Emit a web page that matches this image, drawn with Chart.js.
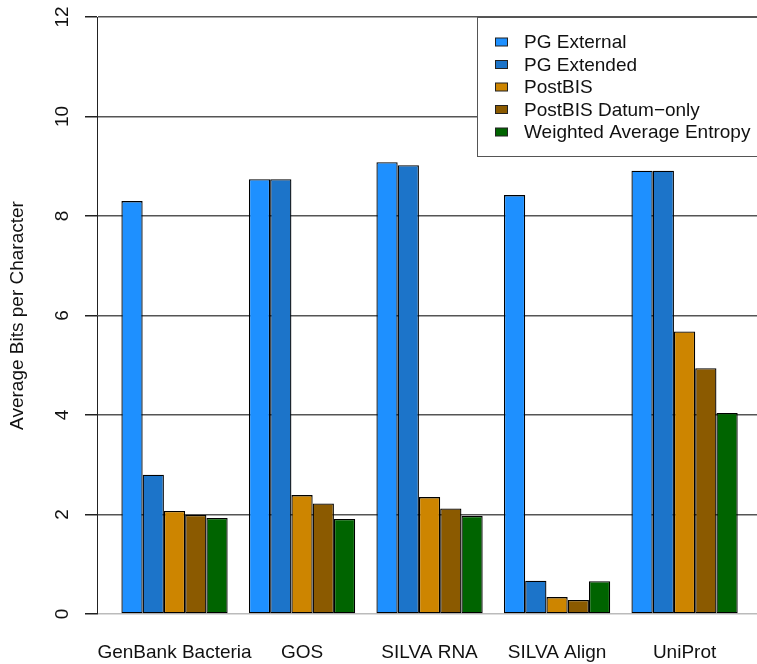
<!DOCTYPE html>
<html>
<head>
<meta charset="utf-8">
<title>Average Bits per Character</title>
<script src="https://cdn.jsdelivr.net/npm/chart.js@4"></script>
<style>
  html, body { margin: 0; padding: 0; background: #fff; }
  #chart { display: block; }
</style>
</head>
<body>
<canvas id="chart" width="757" height="664"></canvas>
<script>
// values
const categories = ['GenBank Bacteria', 'GOS', 'SILVA RNA', 'SILVA Align', 'UniProt'];
const seriesNames = ['PG External', 'PG Extended', 'PostBIS', 'PostBIS Datum\u2212only', 'Weighted Average Entropy'];
const pgExternal = [8.30, 8.74, 9.08, 8.42, 8.91];
const pgExtended = [2.80, 8.74, 9.02, 0.67, 8.91];
const postBIS = [2.07, 2.39, 2.35, 0.34, 5.68];
const postBISDatum = [1.99, 2.22, 2.12, 0.28, 4.94];
const entropy = [1.93, 1.91, 1.97, 0.66, 4.04];
const yTicks = [0, 2, 4, 6, 8, 10, 12];

const seriesValues = [pgExternal, pgExtended, postBIS, postBISDatum, entropy];
const seriesColors = ['#1e90ff', '#1c74c9', '#cd8500', '#8b5a00', '#006400'];

Chart.defaults.font.family = '"Liberation Sans", Arial, Helvetica, sans-serif';
Chart.defaults.font.size = 19;
Chart.defaults.color = '#111';

// legend box in the top right corner, like R's legend()
const boxLegend = {
  id: 'boxLegend',
  afterDraw(chart) {
    const ctx = chart.ctx;
    const left = 477, top = 17, bottom = 156;
    ctx.save();
    ctx.fillStyle = '#fff';
    ctx.fillRect(left, top, chart.width - left + 5, bottom - top);
    ctx.strokeStyle = '#555';
    ctx.lineWidth = 1;
    ctx.strokeRect(left + 0.5, top + 0.5, chart.width - left + 5, bottom - top);
    ctx.font = '19px "Liberation Sans", Arial, Helvetica, sans-serif';
    ctx.textBaseline = 'middle';
    ctx.textAlign = 'left';
    chart.data.datasets.forEach((ds, i) => {
      const cy = 42 + i * 22.5;
      ctx.fillStyle = ds.backgroundColor;
      ctx.fillRect(495.5, cy - 4, 12, 8);
      ctx.strokeStyle = '#222';
      ctx.strokeRect(495.5, cy - 4, 12, 8);
      ctx.fillStyle = '#111';
      ctx.fillText(ds.label, 524, cy + 1);
    });
    ctx.restore();
  }
};

new Chart(document.getElementById('chart'), {
  type: 'bar',
  data: {
    datasets: seriesNames.map((name, s) => ({
      label: name,
      data: seriesValues[s].map((v, i) => ({ x: i + 1, y: v })),
      backgroundColor: seriesColors[s],
      borderColor: '#000',
      borderWidth: 1.3,
      borderSkipped: false,
      categoryPercentage: 5 / 6,
      barPercentage: 1
    }))
  },
  options: {
    responsive: false,
    animation: false,
    devicePixelRatio: 1,
    layout: { padding: { top: 17, left: 0, right: 0, bottom: 0 } },
    plugins: {
      legend: { display: false },
      tooltip: { enabled: false }
    },
    scales: {
      x: {
        type: 'linear',
        offset: false,
        min: 0.392,
        max: 5.568,
        grid: { display: false, drawTicks: false, tickLength: 0 },
        border: { display: false },
        afterBuildTicks: (axis) => {
          axis.ticks = categories.map((c, i) => ({ value: i + 1 }));
        },
        afterFit: (axis) => {
          axis.height = 50;
          axis.paddingLeft = 0;
          axis.paddingRight = 0;
        },
        ticks: {
          autoSkip: false,
          maxRotation: 0,
          minRotation: 0,
          padding: 27,
          color: '#111',
          callback: (v) => categories[Math.round(v) - 1] || ''
        }
      },
      y: {
        min: 0,
        max: 12,
        afterBuildTicks: (axis) => {
          axis.ticks = yTicks.map(v => ({ value: v }));
        },
        afterFit: (axis) => {
          axis.width = 97;
          axis.paddingTop = 0;
          axis.paddingBottom = 0;
        },
        grid: {
          color: (c) => (c.tick && c.tick.value === 0 ? '#bbbbbb' : '#555555'),
          lineWidth: 1.5,
          tickColor: '#222',
          tickLength: 12
        },
        border: { display: true, color: '#222', width: 1 },
        ticks: {
          autoSkip: false,
          minRotation: 90,
          maxRotation: 90,
          crossAlign: 'center',
          padding: 12,
          color: '#111'
        },
        title: {
          display: true,
          text: 'Average Bits per Character',
          color: '#111',
          font: { size: 19 },
          padding: { top: 6, bottom: 0 }
        }
      }
    }
  },
  plugins: [boxLegend]
});
</script>
</body>
</html>
